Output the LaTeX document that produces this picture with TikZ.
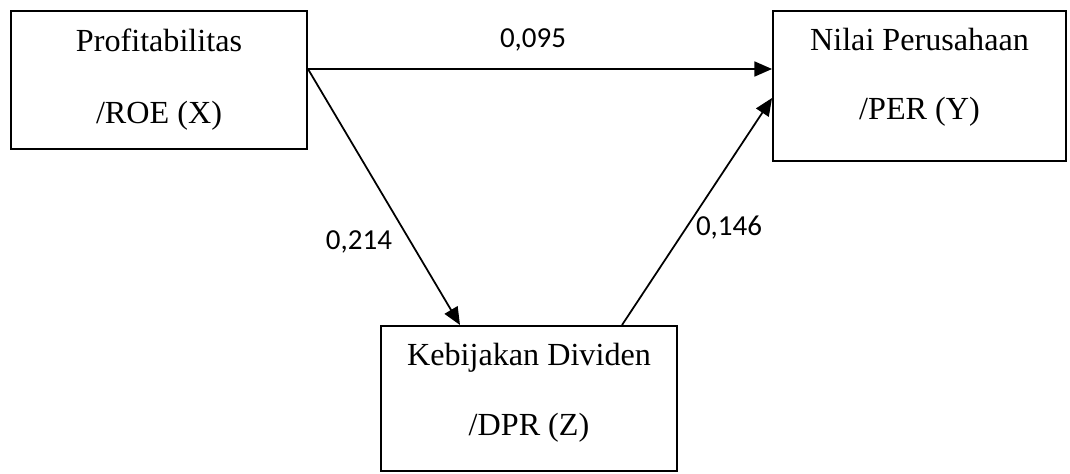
\documentclass[tikz,border=0pt]{standalone}
\usepackage{fontspec}
\usepackage{tikz}
\usetikzlibrary{arrows.meta}
\newfontfamily\boxfont{Liberation Serif}
\newfontfamily\numfont{Carlito}

\begin{document}
\begin{tikzpicture}[every node/.style={font=\boxfont\fontsize{18.3}{21}\selectfont},
	varbox/.style={draw, line width=1.1pt, minimum width=5.92cm, inner sep=0pt},
	coef/.style={font=\numfont\fontsize{16.5}{19}\selectfont},
	arr/.style={line width=1pt, -{Triangle[length=10pt, width=8.5pt]}}]
		\useasboundingbox (0, 0) rectangle (21.4, 9.46);
		% kotak variabel
		\node[varbox, minimum height=2.76cm] (roe) at (3.18, 7.86) {};
		\node[varbox, minimum width=5.86cm, minimum height=3.0cm] (per) at (18.39, 7.74) {};
		\node[varbox, minimum height=2.9cm] (dpr) at (10.58, 1.49) {};
		\node[anchor=base] (roe1) at (3.18, 8.42) {Profitabilitas};
		\node[anchor=base] (roe2) at (3.18, 7.0) {/ROE (X)};
		\node[anchor=base] (per1) at (18.39, 8.44) {Nilai Perusahaan};
		\node[anchor=base] (per2) at (18.39, 7.08) {/PER (Y)};
		\node[anchor=base] (dpr1) at (10.58, 2.16) {Kebijakan Dividen};
		\node[anchor=base] (dpr2) at (10.58, 0.76) {/DPR (Z)};
		% jalur
		\coordinate (x1) at ([yshift=0.22cm]roe.east);
		\coordinate (z1) at ([xshift=-1.38cm]dpr.north);
		\coordinate (z2) at ([xshift=1.86cm]dpr.north);
		\coordinate (y1) at ([yshift=-0.24cm]per.west);
		\draw[arr] (x1) -- (x1 -| per.west);
		\draw[arr] (x1) -- (z1);
		\draw[arr] (z2) -- (y1);
		\node[coef] (b1) at (10.66, 8.66) {0,095};
		\node[coef] (b2) at (7.18, 4.62) {0,214};
		\node[coef] (b3) at (14.58, 4.9) {0,146};
	\end{tikzpicture}
\end{document}
